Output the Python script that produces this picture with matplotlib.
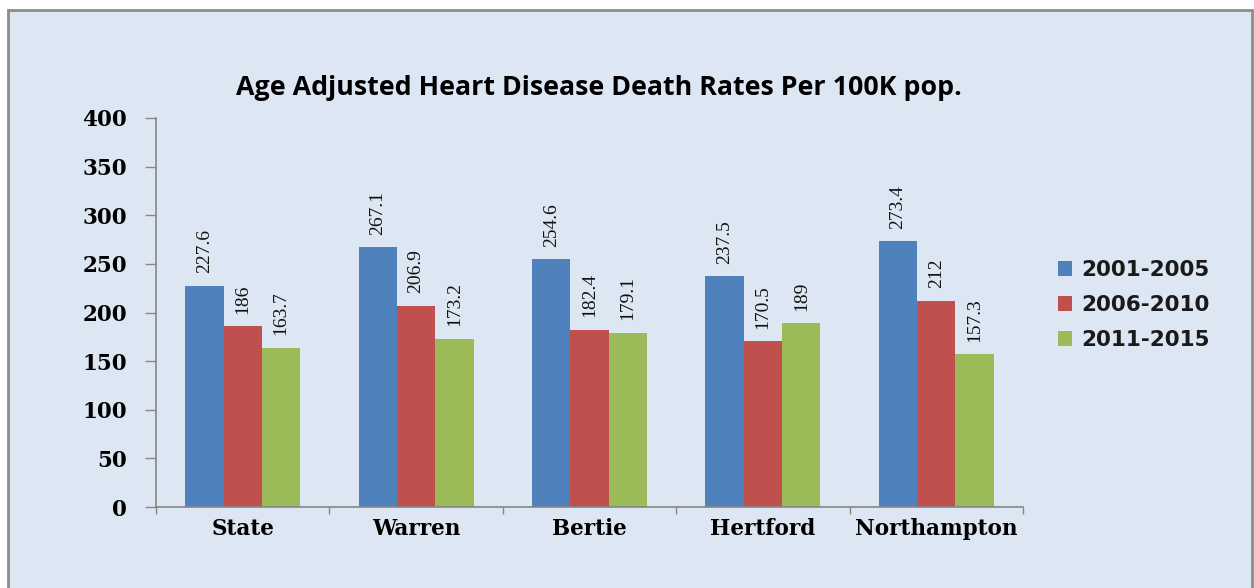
import matplotlib
matplotlib.use("Agg")
import matplotlib.pyplot as plt
from matplotlib.patches import Rectangle
import numpy as np

categories = ["State", "Warren", "Bertie", "Hertford", "Northampton"]
series_names = ["2001-2005", "2006-2010", "2011-2015"]
vals_2001_2005 = [227.6, 267.1, 254.6, 237.5, 273.4]
vals_2006_2010 = [186, 206.9, 182.4, 170.5, 212]
vals_2011_2015 = [163.7, 173.2, 179.1, 189, 157.3]
colors = ["#4F81BD", "#C0504D", "#9BBB59"]
title = "Age Adjusted Heart Disease Death Rates Per 100K pop."
yticks = [0, 50, 100, 150, 200, 250, 300, 350, 400]

W, H = 1254, 588
fig = plt.figure(figsize=(W / 100, H / 100), dpi=100, facecolor="white")

# panel background
panel = Rectangle((8 / W, -0.01), (1252 - 8) / W, 1 - 10 / H + 0.01,
                  transform=fig.transFigure, facecolor="#dde7f3",
                  edgecolor="#8c8c8c", linewidth=2, zorder=-5)
fig.add_artist(panel)

ax = fig.add_axes([156 / W, 1 - 507 / H, (1023 - 156) / W, (507 - 118) / H])
ax.set_facecolor("none")
ax.set_zorder(2)

x = np.arange(len(categories))
bw = 0.221
all_vals = [vals_2001_2005, vals_2006_2010, vals_2011_2015]
for i, (vals, name, c) in enumerate(zip(all_vals, series_names, colors)):
    bars = ax.bar(x + (i - 1) * bw, vals, width=bw, color=c, label=name, zorder=2)
    for b, v in zip(bars, vals):
        ax.annotate(f"{v:g}", (b.get_x() + b.get_width() / 2, b.get_height()),
                    xytext=(0, 9), textcoords="offset points",
                    rotation=90, ha="center", va="bottom",
                    fontsize=14, family="Liberation Serif", color="#111111")

ax.set_xlim(-0.5, len(categories) - 0.5)
ax.set_ylim(0, 400)
ax.set_yticks(yticks)
ax.set_yticklabels([str(t) for t in yticks], family="DejaVu Serif",
                   fontweight="bold", fontsize=15.5)
ax.tick_params(axis="y", direction="out", length=8, color="#868686",
               width=1, pad=13)

ax.set_xticks(np.arange(len(categories) + 1) - 0.5)
ax.set_xticklabels([])
ax.set_xticks(x, minor=True)
ax.set_xticklabels(categories, minor=True, family="DejaVu Serif",
                   fontweight="bold", fontsize=15.5)
ax.tick_params(axis="x", which="major", direction="out", length=5,
               color="#868686", width=1)
ax.tick_params(axis="x", which="minor", length=0, pad=8)

for s in ["top", "right"]:
    ax.spines[s].set_visible(False)
for s in ["left", "bottom"]:
    ax.spines[s].set_color("#868686")
    ax.spines[s].set_linewidth(1.2)

fig.text(599 / W, 1 - 88 / H, title, ha="center", va="center",
         family="Open Sans", fontweight="bold", fontsize=19.3, color="black")

leg = ax.legend(loc="center left", bbox_to_anchor=(1058 / W, 1 - 305 / H),
                bbox_transform=fig.transFigure, frameon=False,
                prop={"family": "DejaVu Sans", "weight": "bold", "size": 15.5},
                handlelength=0.65, handleheight=0.65, handletextpad=0.45,
                labelspacing=0.7, borderpad=0, borderaxespad=0)
for t in leg.get_texts():
    t.set_color("#1a1a1a")

fig.savefig("out.png", dpi=100, facecolor="white")
